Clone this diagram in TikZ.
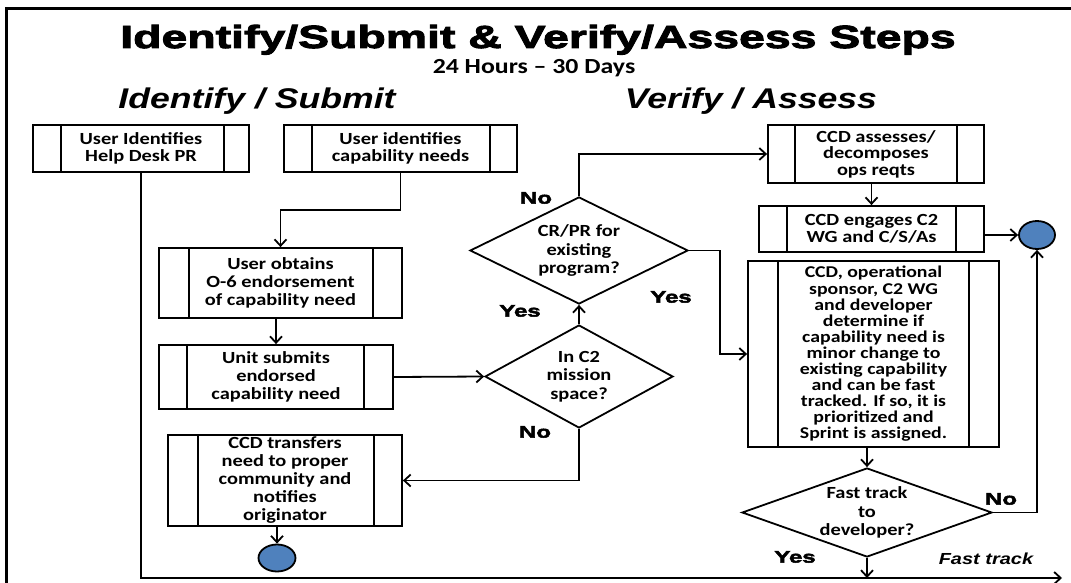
\documentclass[tikz,border=0pt]{standalone}
\usepackage{fontspec}
\usetikzlibrary{arrows.meta,shapes.geometric}

% Fonts: Calibri-like body text, heavy sans for title and Yes/No, italic sans for headings
\newfontfamily\boxfont{Carlito}[FakeStretch=1.2]
\newfontfamily\blackfont{Liberation Sans}[FakeStretch=1.45,BoldFeatures={FakeBold=3}]
\newfontfamily\headfont{Liberation Sans}[FakeStretch=1.25]

\definecolor{endblue}{RGB}{79,129,189}

% Inner vertical bars of a predefined-process box
\newcommand\sidebars[3]{%
  \draw[line] ([xshift=#2]#1.north west) -- ([xshift=#2]#1.south west)
              ([xshift=-#3]#1.north east) -- ([xshift=-#3]#1.south east);}

\tikzset{
  x=1pt, y=-1pt,
  line/.style={line width=1.8pt, line join=miter},
  arr/.style={line, -{Straight Barb[length=6.5pt,width=12pt]}},
  proc/.style={draw, line, align=center, inner sep=0pt,
    font=\fontsize{17}{17.5}\selectfont\boxfont\bfseries},
  dia/.style={draw, line, shape=diamond, inner sep=0pt},
  dtext/.style={align=center, inner sep=0pt,
    font=\fontsize{17}{18.3}\selectfont\boxfont\bfseries},
  endpt/.style={draw, line, shape=ellipse, fill=endblue, inner sep=0pt},
  lbl/.style={inner sep=0pt, font=\fontsize{16.5}{18}\selectfont\blackfont\bfseries},
  head/.style={inner sep=0pt, anchor=base,
    font=\fontsize{28.5}{30}\selectfont\headfont\bfseries\itshape},
}

\begin{document}
\begin{tikzpicture}
\useasboundingbox (0,0) rectangle (1071,583);

% page frame
\draw[line width=2.7pt] (6.7,583) -- (6.7,8.7) -- (1071,8.7);

% titles
\node[inner sep=0pt, anchor=base, font=\fontsize{32}{34}\selectfont\blackfont\bfseries]
  (title) at (538,48) {Identify/Submit \& Verify/Assess Steps};
\node[inner sep=0pt, anchor=base, font=\fontsize{21.5}{24}\selectfont\boxfont\bfseries]
  (subtitle) at (534,74) {24 Hours – 30 Days};
\node[head] (hleft) at (257,109) {Identify / Submit};
\node[head] (hright) at (751,109) {Verify / Assess};

% Identify / Submit column
\node[proc, minimum width=216pt, minimum height=47pt] (b1) at (141,148.5)
  {User Identifies\\Help Desk PR};
\sidebars{b1}{29pt}{26pt}
\node[proc, minimum width=233pt, minimum height=47pt] (b2) at (400.5,148.5)
  {User identifies\\capability needs};
\sidebars{b2}{29pt}{28pt}
\node[proc, minimum width=243pt, minimum height=70pt,
  font=\fontsize{17}{18}\selectfont\boxfont\bfseries] (b3) at (280.5,283)
  {User obtains\\O-6 endorsement\\of capability need};
\sidebars{b3}{31pt}{30pt}
\node[proc, minimum width=234pt, minimum height=64pt,
  font=\fontsize{17}{18.3}\selectfont\boxfont\bfseries] (b4) at (276,377)
  {Unit submits\\endorsed\\capability need};
\sidebars{b4}{29pt}{30pt}
\node[proc, minimum width=234pt, minimum height=91pt,
  font=\fontsize{17}{18}\selectfont\boxfont\bfseries] (b5) at (285,480.5)
  {CCD transfers\\need to proper\\community and\\notifies\\originator};
\sidebars{b5}{31pt}{29pt}
\node[endpt, minimum width=37pt, minimum height=27pt] (e1) at (277,558) {};

% decisions
\node[dia, minimum width=188pt, minimum height=103pt] (d1) at (579,376.5) {};
\node[dtext] (d1t) at (d1.center) {In C2\\mission\\space?};
\node[dia, minimum width=218pt, minimum height=107pt] (d2) at (579,250.5) {};
\node[dtext] (d2t) at (d2.center) {CR/PR for\\existing\\program?};

% Verify / Assess column
\node[proc, minimum width=216pt, minimum height=58pt,
  font=\fontsize{17}{16.5}\selectfont\boxfont\bfseries] (b6) at (876,154)
  {CCD assesses/\\decomposes\\ops reqts};
\sidebars{b6}{28pt}{28pt}
\node[proc, minimum width=225pt, minimum height=46pt] (b7) at (871.5,229)
  {CCD engages C2\\WG and C/S/As};
\sidebars{b7}{29pt}{29pt}
\node[proc, minimum width=251pt, minimum height=186pt,
  font=\fontsize{16.5}{16.1}\selectfont\boxfont\bfseries] (b8) at (873.5,354)
  {CCD, operational\\sponsor, C2 WG\\and developer\\determine if\\capability need is\\minor change to\\existing capability\\and can be fast\\tracked. If so, it is\\prioritized and\\Sprint is assigned.};
\sidebars{b8}{31pt}{31pt}
\node[endpt, minimum width=36pt, minimum height=28pt] (e2) at (1037,235) {};
\node[dia, minimum width=250pt, minimum height=89pt] (d3) at (867,512.5) {};
\node[dtext] (d3t) at (d3.center) {Fast track\\to\\developer?};

% fast-track line end
\coordinate (ftend) at (1062,578);

% connectors
\draw[arr] (b1.south) |- (ftend);
\draw[arr] (b2.south) -- ++(0,37) -| (b3.north);
\draw[arr] (b4.north |- b3.south) -- (b4.north);
\draw[arr] (b4.east) -- (d1.west);
\draw[arr] (d1.south) |- (b5.east);
\draw[arr] (e1.north |- b5.south) -- (e1.north);
\draw[arr] (d1.north) -- (d2.south);
\draw[arr] (d2.north) |- (b6.west);
\draw[arr] (d2.east) -- ++(31,0) |- (b8.west);
\draw[arr] (b7.north |- b6.south) -- (b7.north);
\draw[arr] (b7.east |- e2.west) -- (e2.west);
\draw[arr] (d3.north |- b8.south) -- (d3.north);
\draw[arr] (d3.east) -| (e2.south);
\draw[arr] (d3.south) -- (d3.south |- ftend);

% branch labels
\node[lbl] (no1) at (536,198) {No};
\node[lbl] (yes1) at (520,311) {Yes};
\node[lbl] (yes2) at (671,297) {Yes};
\node[lbl] (no2) at (535,432) {No};
\node[lbl] (no3) at (1001,499) {No};
\node[lbl] (yes3) at (795,557) {Yes};
\node[inner sep=0pt, font=\fontsize{16}{18}\selectfont\headfont\bfseries\itshape]
  (ft) at (986,559) {Fast track};
\end{tikzpicture}
\end{document}
